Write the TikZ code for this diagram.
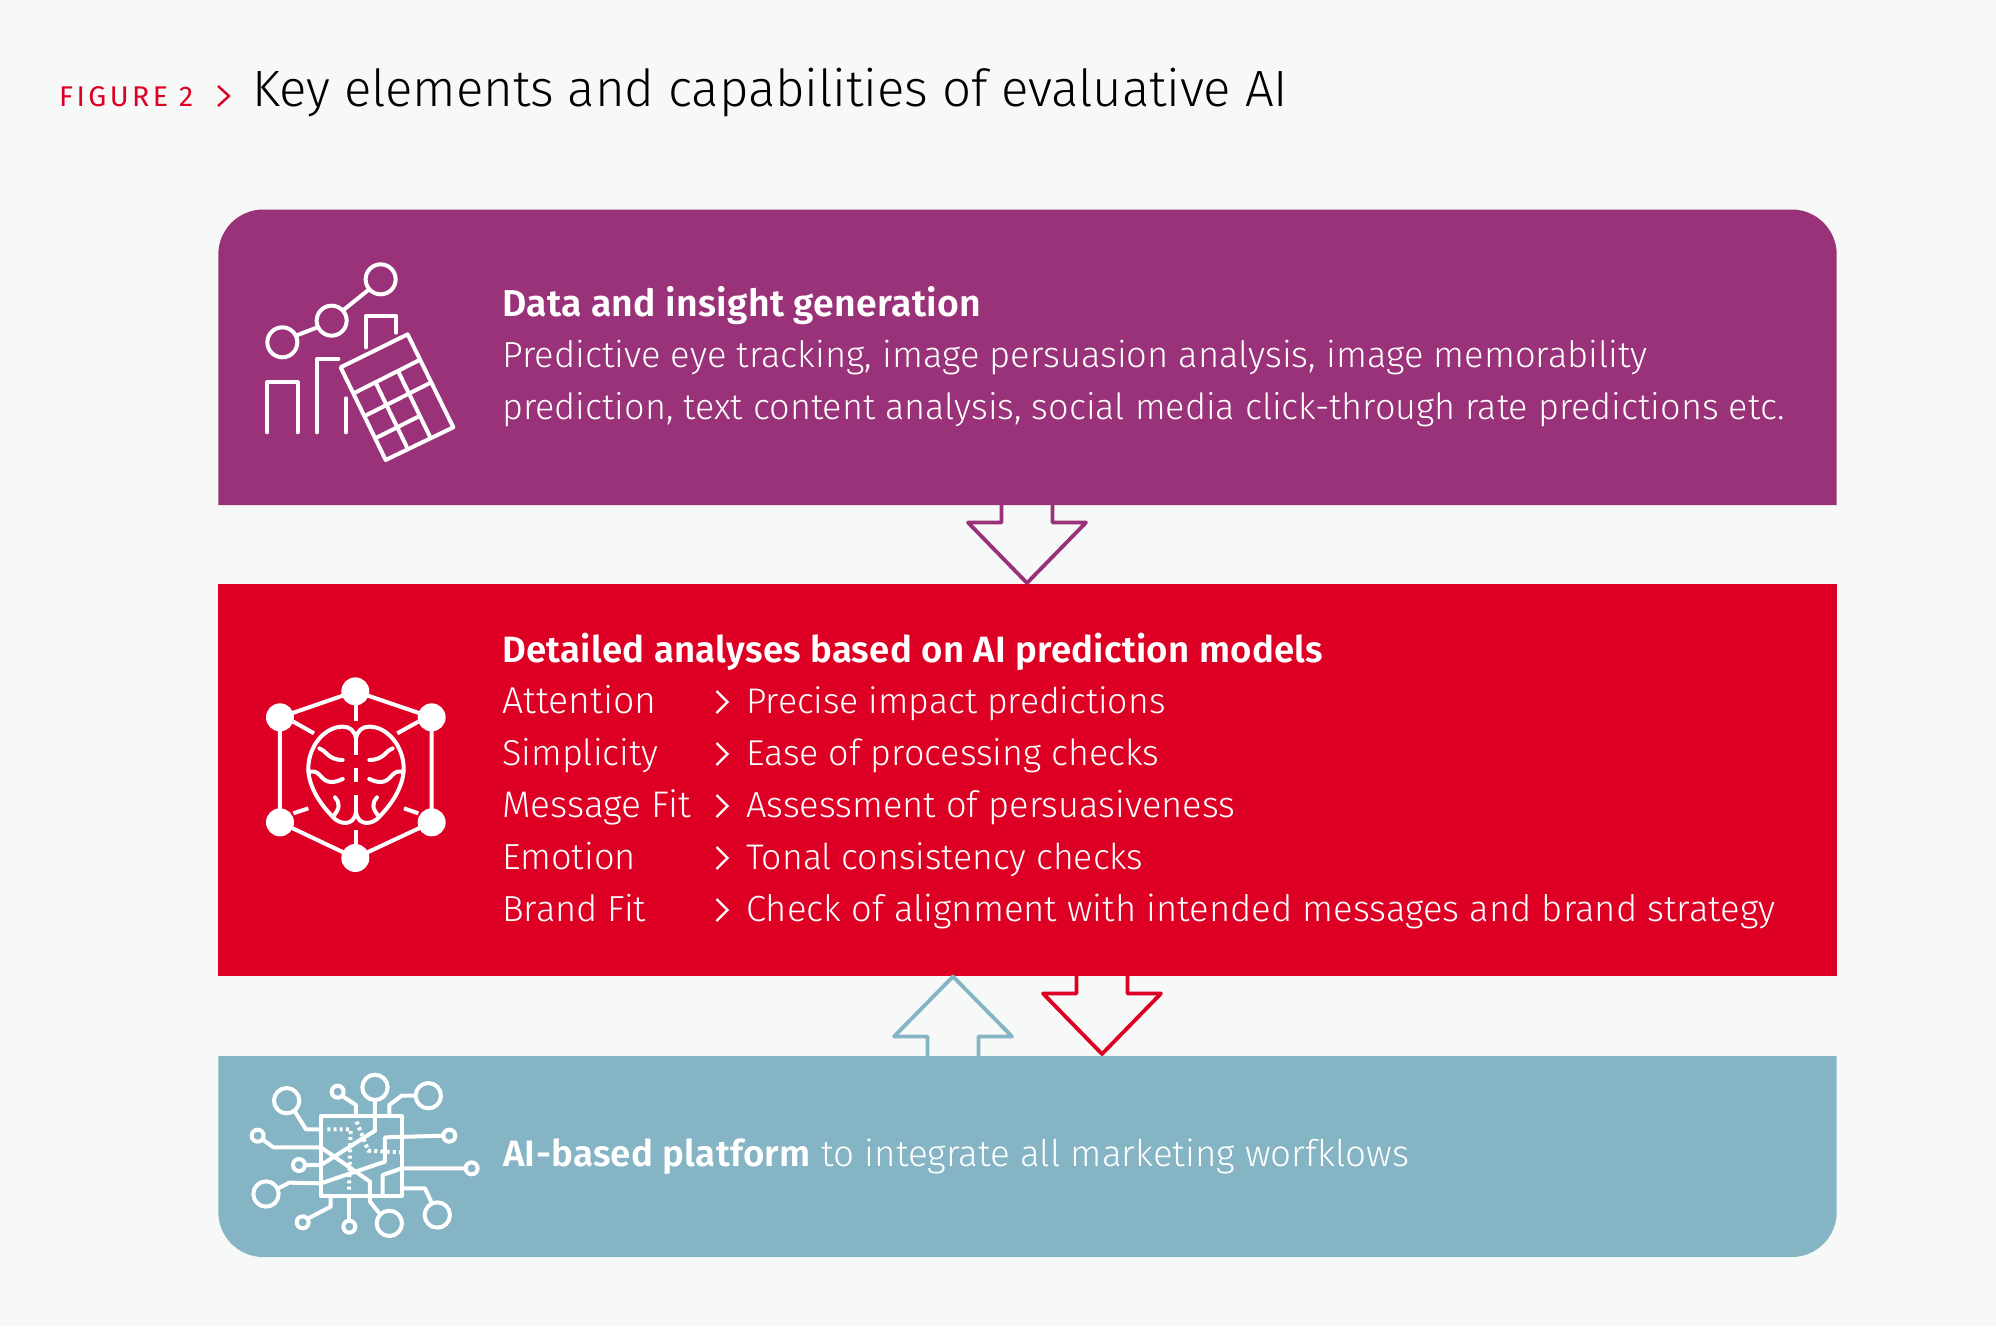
\documentclass[tikz,border=0pt]{standalone}
\usepackage{fontspec}
\setmainfont{Fira Sans Light}[BoldFont=Fira Sans SemiBold,BoldFeatures={LetterSpace=0.8}]
\newfontfamily\figfont{Fira Sans}[LetterSpace=12]
\newfontfamily\titlefont{Fira Sans Light}[LetterSpace=-0.3]
\usetikzlibrary{positioning}
\definecolor{paper}{RGB}{247,249,248}
\definecolor{plum}{RGB}{153,50,120}
\definecolor{signal}{RGB}{221,0,36}
\definecolor{steel}{RGB}{133,180,196}
\tikzset{
  heading/.style={anchor=base west,inner sep=0pt,text=white,font=\fontsize{#1}{36}\selectfont\bfseries},
  body/.style={anchor=base west,inner sep=0pt,text=white,font=\fontsize{#1}{36}\selectfont},
  body/.default=36.2,
  icon/.style={draw=white,line width=4pt,line join=round,line cap=round},
  dots/.style={draw=white,line width=4pt,dash pattern=on 3pt off 3.2pt},
  block arrow/.style={line width=3.8pt,line join=round,fill=none},
  chevron/.style={draw=white,line width=2.4pt,line join=miter}
}
\newcommand{\chev}[1]{\draw[chevron] (#1) ++(-5.5,-11) -- ++(11,11) -- ++(-11,11);}
\begin{document}
\begin{tikzpicture}[x=1pt,y=-1pt]
  \useasboundingbox[fill=paper] (0,0) rectangle (1996,1326);
  % title
  \node[anchor=base west,inner sep=0pt,text=signal,font=\fontsize{28.5}{29}\selectfont\figfont] (figlabel) at (59,106) {FIGURE 2};
  \draw[draw=signal,line width=2.4pt] (218,86) -- (229,96) -- (218,106);
  \node[anchor=base west,inner sep=0pt,text=black,font=\fontsize{51}{51}\selectfont\titlefont] (figtitle) at (252,106) {Key elements and capabilities of evaluative AI};
  % boxes
  \fill[plum] (218.3,505) [rounded corners=45pt] -- (218.3,209.5) -- (1836.7,209.5) [sharp corners] -- (1836.7,505) -- cycle;
  \fill[signal] (218.3,584) rectangle (1836.7,976);
  \fill[steel] (218.3,1056) [rounded corners=45pt] -- (218.3,1257) -- (1836.7,1257) [sharp corners] -- (1836.7,1056) -- cycle;
  % arrows
  \coordinate (plumbase) at (1027,505);
  \coordinate (steelbase) at (953,1056);
  \coordinate (redbase) at (1102,976);
  \draw[block arrow,draw=plum] (plumbase) ++(-25.5,0) -- ++(0,17.5) -- ++(-33.5,0) -- ++(59,60.5) -- ++(59,-60.5) -- ++(-33.5,0) -- ++(0,-17.5);
  \draw[block arrow,draw=steel] (steelbase) ++(-25.5,0) -- ++(0,-19.5) -- ++(-33.5,0) -- ++(59,-60) -- ++(59,60) -- ++(-33.5,0) -- ++(0,19.5);
  \draw[block arrow,draw=signal] (redbase) ++(-25.5,0) -- ++(0,17.5) -- ++(-33.5,0) -- ++(59,60.5) -- ++(59,-60.5) -- ++(-33.5,0) -- ++(0,-17.5);
  % top text
  \node[heading=37.4] (datahead) at (502,316) {Data and insight generation};
  \node[body=36.3] (dataone) at (502,367) {Predictive eye tracking, image persuasion analysis, image memorability};
  \node[body=36] (datatwo) at (502,419) {prediction, text content analysis, social media click-through rate predictions etc.};
  % middle text
  \node[heading=36.6] (modelhead) at (502,662) {Detailed analyses based on AI prediction models};
  \node[body=37.4] (attn) at (502,713) {Attention};
  \node[body=36] (simp) at (502,765) {Simplicity};
  \node[body=37] (mfit) at (502,817) {Message Fit};
  \node[body] (emot) at (502,869) {Emotion};
  \node[body] (bfit) at (502,921) {Brand Fit};
  \chev{722,702}
  \chev{722,754}
  \chev{722,806}
  \chev{722,858}
  \chev{722,910}
  \node[body=35.6] (attnr) at (746,713) {Precise impact predictions};
  \node[body=35.9] (simpr) at (746,765) {Ease of processing checks};
  \node[body] (mfitr) at (746,817) {Assessment of persuasiveness};
  \node[body=35.6] (emotr) at (746,869) {Tonal consistency checks};
  \node[body=36.4] (bfitr) at (746,921) {Check of alignment with intended messages and brand strategy};
  % bottom text
  \node[body=36.7] (platform) at (503,1166) {\textbf{AI-based platform} to integrate all marketing worfklows};
  % chart icon
  \begin{scope}[shift={(240,240)},x=0.3333pt,y=-0.3333pt]
    \draw[icon] (127,307) circle[radius=45];
    \draw[icon] (275,242) circle[radius=45];
    \draw[icon] (422,118) circle[radius=45];
    \draw[icon] (173,285) -- (232,262);
    \draw[icon] (313,208) -- (385,150);
    \draw[icon] (82,577) -- (82,427) -- (173,427) -- (173,577);
    \draw[icon] (231,577) -- (231,357) -- (295,357);
    \draw[icon] (318,577) -- (318,475);
    \draw[icon] (378,322) -- (378,227) -- (468,227) -- (468,278);
    \draw[icon] (302,382) -- (503,283) -- (640,562) -- (437,660) -- cycle;
    \draw[icon] (345,458) -- (535,362);
    \draw[icon] (380,525) -- (568,430);
    \draw[icon] (412,592) -- (535,530);
    \draw[icon] (408,430) -- (500,620);
    \draw[icon] (475,395) -- (570,590);
  \end{scope}
  % brain icon
  \begin{scope}[shift={(240,660)},x=0.3333pt,y=-0.3333pt]
    \fill[white] (346,94) circle[radius=42];
    \fill[white] (120,172) circle[radius=42];
    \fill[white] (575,172) circle[radius=42];
    \fill[white] (120,487) circle[radius=42];
    \fill[white] (575,487) circle[radius=42];
    \fill[white] (346,594) circle[radius=42];
    \draw[icon] (120,172) -- (346,94) -- (575,172) -- (575,487) -- (346,594) -- (120,487) -- cycle;
    \draw[icon,line cap=butt] (349,130) -- (349,182);
    \draw[icon,line cap=butt] (160,185) -- (222,220);
    \draw[icon,line cap=butt] (535,185) -- (472,220);
    \draw[icon,line cap=butt] (160,460) -- (205,445);
    \draw[icon,line cap=butt] (535,460) -- (492,445);
    \draw[icon,line cap=butt] (349,510) -- (349,555);
    \draw[icon,line cap=butt] (348,215) -- (348,285);
    \draw[icon,line cap=butt] (348,325) -- (348,365);
    \draw[icon,line cap=butt] (348,405) -- (348,462);
  \end{scope}
  \begin{scope}[shift={(356,660)},x=0.3333pt,y=-0.3333pt]
    \draw[icon] (0,235) .. controls (-5,210) and (-20,200) .. (-40,200) .. controls (-95,200) and (-143,260) .. (-143,325) .. controls (-143,385) and (-100,440) .. (-70,470) .. controls (-50,495) and (-5,500) .. (0,455);
    \draw[icon] (-110,265) .. controls (-90,270) and (-85,300) .. (-40,300);
    \draw[icon] (-143,335) -- (-125,335) .. controls (-100,340) and (-100,385) .. (-40,357);
    \draw[icon] (-63,412) .. controls (-50,425) and (-45,445) .. (-70,470);
    \begin{scope}[xscale=-1]
      \draw[icon] (0,235) .. controls (-5,210) and (-20,200) .. (-40,200) .. controls (-95,200) and (-143,260) .. (-143,325) .. controls (-143,385) and (-100,440) .. (-70,470) .. controls (-50,495) and (-5,500) .. (0,455);
      \draw[icon] (-110,265) .. controls (-90,270) and (-85,300) .. (-40,300);
      \draw[icon] (-143,335) -- (-125,335) .. controls (-100,340) and (-100,385) .. (-40,357);
      \draw[icon] (-63,412) .. controls (-50,425) and (-45,445) .. (-70,470);
    \end{scope}
  \end{scope}
  % circuit icon
  \begin{scope}[shift={(240,1060)},x=0.3333pt,y=-0.3333pt]
    \draw[icon] (243,168) rectangle (485,408);
    \draw[icon] (140,122) circle[radius=38];
    \draw[icon] (405,82) circle[radius=38];
    \draw[icon] (565,107) circle[radius=38];
    \draw[icon] (78,402) circle[radius=38];
    \draw[icon] (448,490) circle[radius=38];
    \draw[icon] (592,465) circle[radius=38];
    \draw[icon] (293,95) circle[radius=18];
    \draw[icon] (53,227) circle[radius=18];
    \draw[icon] (177,315) circle[radius=18];
    \draw[icon] (628,227) circle[radius=18];
    \draw[icon] (695,325) circle[radius=18];
    \draw[icon] (188,487) circle[radius=18];
    \draw[icon] (328,500) circle[radius=18];
    \draw[icon] (165,155) -- (198,208) -- (243,208);
    \draw[icon] (310,110) -- (348,135) -- (348,168);
    \draw[icon] (405,120) -- (405,212) -- (243,315) -- (195,315);
    \draw[icon] (527,107) -- (485,107) -- (448,135) -- (448,168);
    \draw[icon] (70,240) -- (100,262) -- (243,262) -- (390,365) -- (390,425) -- (420,462);
    \draw[icon] (610,227) -- (435,232) -- (435,305) -- (243,370) -- (148,368) -- (115,385);
    \draw[icon] (677,325) -- (485,325) -- (428,345) -- (428,408);
    \draw[icon] (575,428) -- (555,385) -- (485,385);
    \draw[icon] (205,475) -- (272,440) -- (272,408);
    \draw[icon] (328,482) -- (328,408);
    \draw[dots] (262,208) -- (332,208) -- (327,395);
    \draw[dots] (350,185) -- (385,272) -- (480,277);
  \end{scope}
\end{tikzpicture}
\end{document}
